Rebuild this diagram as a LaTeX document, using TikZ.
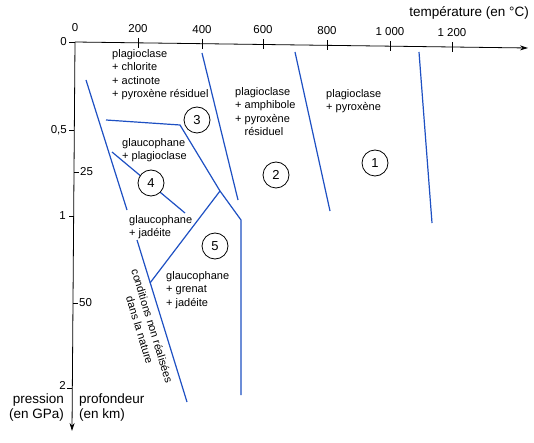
\documentclass[tikz,border=0pt]{standalone}
\usepackage{fontspec}
\setmainfont{Liberation Sans}
\usetikzlibrary{arrows.meta}
\definecolor{phaseblue}{RGB}{30,80,195}
\begin{document}
\begin{tikzpicture}[x=1pt,y=-1pt,
  bnd/.style={draw=phaseblue,line width=1.2pt},
  axisline/.style={draw=black,line width=0.8pt},
  tickline/.style={draw=black,line width=0.7pt},
  lbl/.style={inner sep=0pt,font=\fontsize{11}{13.5}\selectfont,align=left,anchor=north west},
  ticklbl/.style={inner sep=0pt,font=\fontsize{11.5}{13}\selectfont},
  axlbl/.style={inner sep=0pt,font=\fontsize{13.5}{15}\selectfont},
  num/.style={circle,draw=black,line width=0.8pt,fill=white,minimum size=26pt,inner sep=0pt,font=\fontsize{13}{13}\selectfont}]
\useasboundingbox (0,0) rectangle (534,443);
\fill[white] (0,0) rectangle (534,443);

% axes
\coordinate (O) at (75,42);
\coordinate (Xend) at (528,48);
\coordinate (Yend) at (72,431);
\coordinate (Ot) at (69,42);
\draw[axisline,-{Stealth[length=8pt,width=5pt]}] (O) -- (Xend);
\draw[axisline,-{Stealth[length=8pt,width=5pt]}] (O) -- (Yend);
\draw[tickline] (Ot) -- (O);

% x ticks
\foreach \x/\l [count=\i] in {75/0,138/200,202/400,263/600,327/800,390/1 000,452/1 200}{
  \pgfmathsetmacro\yy{42+6*(\x-75)/452}
  \ifnum\i>1 \draw[tickline] (\x,\yy-5) -- (\x,\yy+5);\fi
  \node[ticklbl] (tx\i) at (\x,\yy-14.5) {\l};
}
% y ticks
\node[ticklbl,anchor=east] (ty0) at (67,42) {0};
\draw[tickline] (69.3,130) -- (74.3,130);
\node[ticklbl,anchor=east] (ty05) at (67,130) {0,5};
\draw[tickline] (73.7,216) -- (68.7,216);
\node[ticklbl,anchor=east] (ty1) at (66,216) {1};
\draw[tickline] (72.3,388) -- (67.3,388);
\node[ticklbl,anchor=east] (ty2) at (66,385) {2};
\draw[tickline] (74,172) -- (79,172);
\node[ticklbl,anchor=west] (tk25) at (80,172) {25};
\draw[tickline] (73,303) -- (78,303);
\node[ticklbl,anchor=west] (tk50) at (79,303) {50};

% axis titles
\node[axlbl,anchor=east] (temp) at (529,13) {température (en °C)};
\node[axlbl,anchor=north east,align=right] (pres) at (64,394) {pression\\(en GPa)};
\node[axlbl,anchor=north west,align=left] (prof) at (79,394) {profondeur\\(en km)};

% boundaries
\coordinate (a1) at (86,80);   \coordinate (a2) at (127,210);
\coordinate (a3) at (137,240); \coordinate (a4) at (187,402);
\coordinate (t1) at (106,120); \coordinate (t2) at (180,125);
\coordinate (t3) at (220,191); \coordinate (t4) at (241,220);
\coordinate (t5) at (241,395);
\coordinate (d1) at (112,152); \coordinate (d2) at (185,213);
\coordinate (e2) at (150,283);
\coordinate (l3a) at (202,53);  \coordinate (l3b) at (238,200);
\coordinate (l2a) at (295,52);  \coordinate (l2b) at (330,211);
\coordinate (l1a) at (419,52);  \coordinate (l1b) at (432,223);

\draw[bnd] (a1) -- (a2);
\draw[bnd] (a3) -- (a4);
\draw[bnd] (t1) -- (t2) -- (t3) -- (t4) -- (t5);
\draw[bnd] (d1) -- (d2);
\draw[bnd] (t3) -- (e2);
\draw[bnd] (l3a) -- (l3b);
\draw[bnd] (l2a) -- (l2b);
\draw[bnd] (l1a) -- (l1b);

% region numbers
\node[num] (c1) at (375,163) {1};
\node[num] (c2) at (276,175) {2};
\node[num] (c3) at (197,120) {3};
\node[num] (c4) at (151,183) {4};
\node[num] (c5) at (215,246) {5};

% mineral assemblages
\node[lbl] (m1) at (112,49) {plagioclase\\+ chlorite\\+ actinote\\+ pyroxène résiduel};
\node[lbl] (m2) at (235,87) {plagioclase\\+ amphibole\\+ pyroxène\\\phantom{+ }résiduel};
\node[lbl] (m3) at (326,89) {plagioclase\\+ pyroxène};
\node[lbl] (m4) at (122,138) {glaucophane\\+ plagioclase};
\node[lbl] (m5) at (129,215) {glaucophane\\+ jadéite};
\node[lbl] (m6) at (166,271) {glaucophane\\+ grenat\\+ jadéite};
\node[inner sep=0pt,font=\fontsize{11}{13}\selectfont,align=center,rotate=-73] (cnr) at (146,328) {conditions non réalisées\\dans la nature};
\end{tikzpicture}
\end{document}
